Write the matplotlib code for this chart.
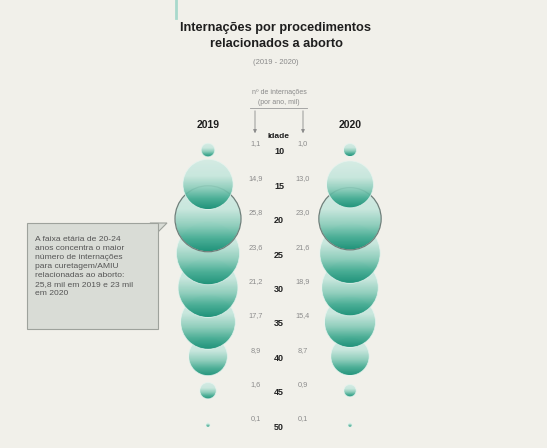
import numpy as np
import matplotlib
matplotlib.use("Agg")
from matplotlib import pyplot as plt
from matplotlib.patches import Circle, Polygon, Rectangle
from matplotlib.colors import LinearSegmentedColormap

# dados (mil internações por ano)
idades = [10, 15, 20, 25, 30, 35, 40, 45, 50]
v2019 = [1.1, 14.9, 25.8, 23.6, 21.2, 17.7, 8.9, 1.6, 0.1]
v2020 = [1.0, 13.0, 23.0, 21.6, 18.9, 15.4, 8.7, 0.9, 0.1]
rot2019 = ["1,1", "14,9", "25,8", "23,6", "21,2", "17,7", "8,9", "1,6", "0,1"]
rot2020 = ["1,0", "13,0", "23,0", "21,6", "18,9", "15,4", "8,7", "0,9", "0,1"]

fundo = "#f1f0ea"
plt.rcParams['font.family'] = ['Liberation Sans', 'DejaVu Sans']

fig = plt.figure(figsize=(5.47, 4.48), dpi=100, facecolor=fundo)
ax = fig.add_axes([0, 0, 1, 1])
ax.set_xlim(0, 547)
ax.set_ylim(448, 0)
ax.set_aspect("equal")
ax.axis("off")
ax.set_facecolor(fundo)

# escalas
def y_idade(a):
    return 150 + (a - 10) * (425 - 150) / 40.0

rmax = 33.0
vmax = max(v2019)
def raio(v):
    return rmax * np.sqrt(v / vmax)

cmap = LinearSegmentedColormap.from_list(
    "verde", [(0, "#d3ece4"), (0.35, "#c4e6dc"), (0.6, "#86cbb8"),
              (0.8, "#3ca88e"), (1.0, "#0e8a70")])
grad = np.linspace(0, 1, 200).reshape(-1, 1)

def bolha(cx, cy, r, z, borda=False):
    c = Circle((cx, cy), r, facecolor="none", edgecolor="none")
    ax.add_patch(c)
    im = ax.imshow(grad, cmap=cmap, extent=(cx - r, cx + r, cy + r, cy - r),
                   origin="upper", aspect="auto", alpha=0.9, zorder=z)
    im.set_clip_path(c)
    ax.add_patch(Circle((cx, cy), r, facecolor="none", edgecolor="#e6f4ef",
                        lw=0.6, alpha=0.8, zorder=z + 0.01))
    if borda:
        ax.add_patch(Circle((cx, cy), r, facecolor="none", edgecolor="#6f7f7a",
                            lw=0.9, zorder=z + 0.02))

x19, x20 = 208, 350
for i, a in enumerate(idades):
    y = y_idade(a)
    z = 3 - i * 0.1
    bolha(x19, y, raio(v2019[i]), z, borda=(a == 20))
    bolha(x20, y, raio(v2020[i]), z, borda=(a == 20))
    ax.text(279, y + 2, str(a), ha="center", va="center", fontsize=6.5,
            fontweight="bold", color="#222222", zorder=5)
    ax.text(256, y - 6, rot2019[i], ha="center", va="center", fontsize=5.3,
            color="#8c8c8c", zorder=5)
    ax.text(303, y - 6, rot2020[i], ha="center", va="center", fontsize=5.3,
            color="#8c8c8c", zorder=5)

# título
ax.plot([176, 176], [0, 18], color="#a9d9cc", lw=2)
ax.text(276, 28, "Internações por procedimentos", ha="center", va="center",
        fontsize=9.2, fontweight="bold", color="#1e1e1e")
ax.text(276, 44, "relacionados a aborto", ha="center", va="center",
        fontsize=9.2, fontweight="bold", color="#1e1e1e")
ax.text(276, 62, "(2019 - 2020)", ha="center", va="center", fontsize=5.5,
        color="#8a8a8a")

# cabeçalhos
ax.text(208, 125, "2019", ha="center", va="center", fontsize=7.5,
        fontweight="bold", color="#1e1e1e")
ax.text(350, 125, "2020", ha="center", va="center", fontsize=7.5,
        fontweight="bold", color="#1e1e1e")
ax.text(279, 137, "Idade", ha="center", va="center", fontsize=6,
        fontweight="bold", color="#1e1e1e")
ax.text(279, 93, "nº de internações", ha="center", va="center", fontsize=5,
        color="#8a8a8a")
ax.text(279, 102, "(por ano, mil)", ha="center", va="center", fontsize=5,
        color="#8a8a8a")
ax.plot([250, 307], [108, 108], color="#9a9a9a", lw=0.6)
for xb in (255, 303):
    ax.annotate("", xy=(xb, 136), xytext=(xb, 108),
                arrowprops=dict(arrowstyle="-|>", color="#8a8a8a", lw=0.6,
                                mutation_scale=5))

# caixa de nota
ax.add_patch(Rectangle((27, 223), 131, 106, facecolor="#d9dcd6",
                       edgecolor="#9ea29c", lw=0.8, zorder=4))
ax.add_patch(Polygon([(150, 223), (167, 223), (158, 232)], closed=True,
                     facecolor="#d9dcd6", edgecolor="#9ea29c", lw=0.8, zorder=3))
nota = ("A faixa etária de 20-24\nanos concentra o maior\nnúmero de internações\n"
        "para curetagem/AMIU\nrelacionadas ao aborto:\n25,8 mil em 2019 e 23 mil\nem 2020")
ax.text(35, 236, nota, ha="left", va="top", fontsize=6.1, color="#555555",
        linespacing=1.4, zorder=5)

fig.savefig("out.png", dpi=100, facecolor=fundo)
